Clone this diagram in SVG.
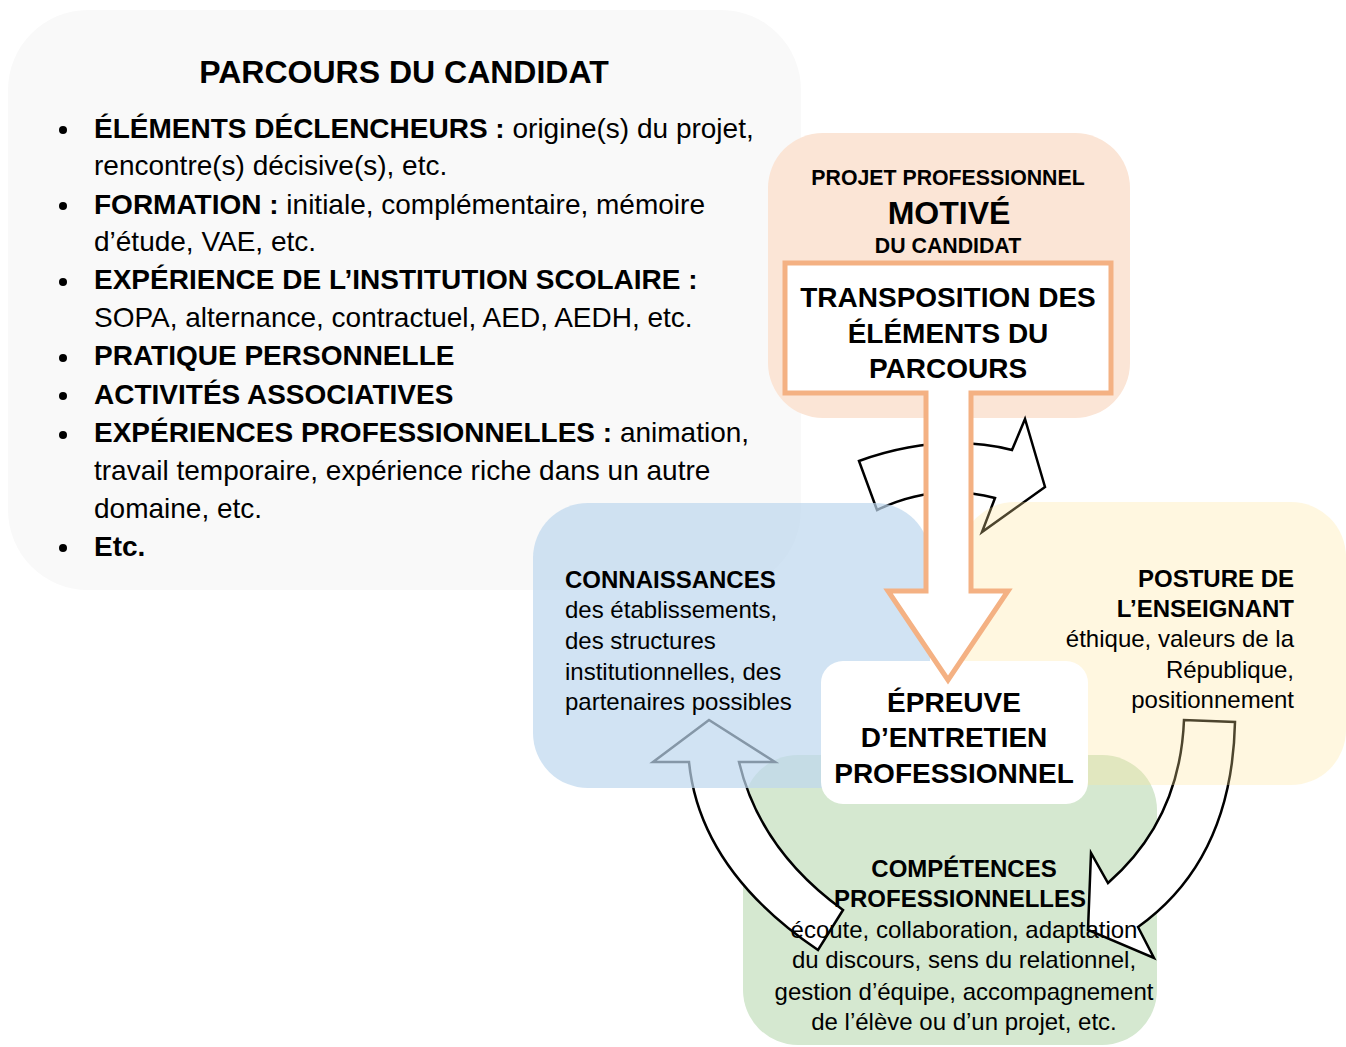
<svg xmlns="http://www.w3.org/2000/svg" width="1346" height="1047" viewBox="0 0 1346 1047">
<style>
text{font-family:"Liberation Sans",Arial,sans-serif;fill:#000}
.b{font-weight:bold}
.li{font-size:28px}
.side{font-size:24px}
.arr{fill:#fff;stroke:#000;stroke-width:2.5;stroke-linejoin:miter}
</style>
<rect width="1346" height="1047" fill="#fff"/>
<g id="parcours">
<rect x="8" y="10" width="793" height="580" rx="80" fill="#f9f9f9"/>
</g>
<g id="projet">
<rect x="768" y="133" width="362" height="285" rx="55" fill="#fbe5d6"/>
</g>
<g id="competences-box">
<rect x="743" y="755" width="414" height="290" rx="55" fill="#d5e8d0"/>
</g>
<g id="connectors">
<path class="arr" d="M859,461 Q940,432 1012,450 L1025,419 L1045,487 L982,532 L995,498 Q935,482 877,510 Z"/>
<path class="arr" d="M818,950 Q700,870 689,762 L653,762 L709,720 L775,762 L739,762 Q760,850 843,910 Z"/>
<path class="arr" d="M1184,720 Q1180,820 1108,883 L1091,853 L1088,930 L1154,958 L1138,927 Q1232,860 1235,722 Z"/>
</g>
<g id="connaissances">
<rect x="533" y="503" width="397" height="285" rx="55" fill="#bdd7ee" fill-opacity="0.7"/>
</g>
<g id="posture">
<rect x="960" y="502" width="386" height="283" rx="55" fill="#ffe699" fill-opacity="0.3"/>
</g>
<g id="epreuve">
<rect x="821" y="661" width="267" height="143" rx="22" fill="#fff"/>
</g>
<g id="transposition">
<path d="M785,263 H1111 V393 H971 V591 H1008 L948,680 L888,591 H926 V393 H785 Z" fill="#fff" stroke="#f4b183" stroke-width="5" stroke-linejoin="miter"/>
</g>
<g id="texts">
<text x="404" y="83" text-anchor="middle" class="b" font-size="32">PARCOURS DU CANDIDAT</text>
<g fill="#000">
<circle cx="63" cy="130" r="4"/><circle cx="63" cy="206" r="4"/><circle cx="63" cy="282" r="4"/><circle cx="63" cy="358" r="4"/><circle cx="63" cy="396" r="4"/><circle cx="63" cy="435" r="4"/><circle cx="63" cy="548" r="4"/>
</g>
<text class="li" x="94" y="138"><tspan class="b">ÉLÉMENTS DÉCLENCHEURS :</tspan> origine(s) du projet,</text>
<text class="li" x="94" y="175">rencontre(s) décisive(s), etc.</text>
<text class="li" x="94" y="214"><tspan class="b">FORMATION :</tspan> initiale, complémentaire, mémoire</text>
<text class="li" x="94" y="251">d’étude, VAE, etc.</text>
<text class="li b" x="94" y="289">EXPÉRIENCE DE L’INSTITUTION SCOLAIRE :</text>
<text class="li" x="94" y="327">SOPA, alternance, contractuel, AED, AEDH, etc.</text>
<text class="li b" x="94" y="365">PRATIQUE PERSONNELLE</text>
<text class="li b" x="94" y="404">ACTIVITÉS ASSOCIATIVES</text>
<text class="li" x="94" y="442"><tspan class="b">EXPÉRIENCES PROFESSIONNELLES :</tspan> animation,</text>
<text class="li" x="94" y="480">travail temporaire, expérience riche dans un autre</text>
<text class="li" x="94" y="518">domaine, etc.</text>
<text class="li b" x="94" y="556">Etc.</text>

<text x="948" y="185" text-anchor="middle" class="b" font-size="21.3">PROJET PROFESSIONNEL</text>
<text x="949" y="224" text-anchor="middle" class="b" font-size="32">MOTIVÉ</text>
<text x="948" y="253" text-anchor="middle" class="b" font-size="21.3">DU CANDIDAT</text>
<text x="948" y="307" text-anchor="middle" class="b" font-size="28">TRANSPOSITION DES</text>
<text x="948" y="343" text-anchor="middle" class="b" font-size="28">ÉLÉMENTS DU</text>
<text x="948" y="378" text-anchor="middle" class="b" font-size="28">PARCOURS</text>

<text x="954" y="712" text-anchor="middle" class="b" font-size="28">ÉPREUVE</text>
<text x="954" y="747" text-anchor="middle" class="b" font-size="28">D’ENTRETIEN</text>
<text x="954" y="783" text-anchor="middle" class="b" font-size="28">PROFESSIONNEL</text>

<text class="side b" x="565" y="588">CONNAISSANCES</text>
<text class="side" x="565" y="618">des établissements,</text>
<text class="side" x="565" y="649">des structures</text>
<text class="side" x="565" y="680">institutionnelles, des</text>
<text class="side" x="565" y="710">partenaires possibles</text>

<text class="side b" x="1294" y="587" text-anchor="end">POSTURE DE</text>
<text class="side b" x="1294" y="617" text-anchor="end">L’ENSEIGNANT</text>
<text class="side" x="1294" y="647" text-anchor="end">éthique, valeurs de la</text>
<text class="side" x="1294" y="678" text-anchor="end">République,</text>
<text class="side" x="1294" y="708" text-anchor="end">positionnement</text>

<text class="side b" x="964" y="877" text-anchor="middle">COMPÉTENCES</text>
<text class="side b" x="960" y="907" text-anchor="middle">PROFESSIONNELLES</text>
<text class="side" x="964" y="938" text-anchor="middle">écoute, collaboration, adaptation</text>
<text class="side" x="964" y="968" text-anchor="middle">du discours, sens du relationnel,</text>
<text class="side" x="964" y="1000" text-anchor="middle">gestion d’équipe, accompagnement</text>
<text class="side" x="964" y="1030" text-anchor="middle">de l’élève ou d’un projet, etc.</text>
</g>
</svg>
